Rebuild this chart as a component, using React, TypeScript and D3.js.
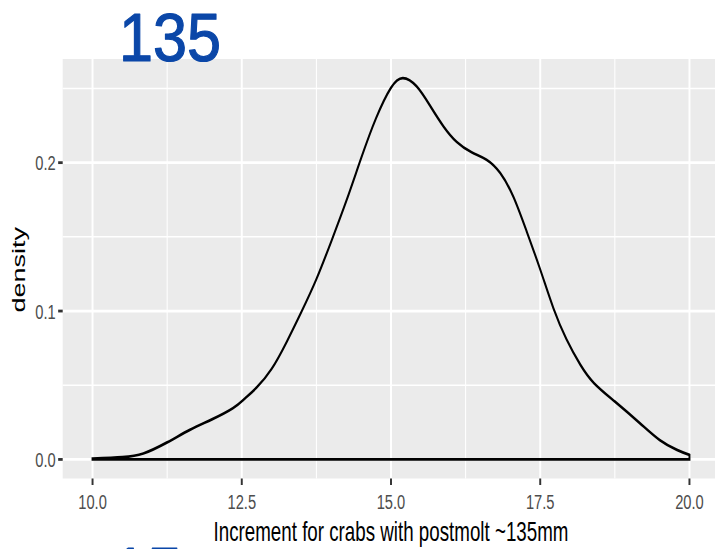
import React from 'react';
import * as d3 from 'd3';

// Kernel density estimate of the moult increment
const incrementX = [
  10.0, 10.5, 10.85, 11.25, 11.63, 12.0, 12.35, 12.55, 12.75, 13.0, 13.25, 13.5,
  13.75, 14.0, 14.25, 14.5, 14.75, 15.0, 15.2, 15.43, 15.66, 15.88, 16.1, 16.35,
  16.6, 16.83, 17.05, 17.27, 17.5, 17.72, 17.94, 18.17, 18.4, 18.75, 19.17, 19.5,
  19.79, 20.0,
];
const densityY = [
  0.0005, 0.0015, 0.004, 0.0115, 0.0199, 0.027, 0.0345, 0.041, 0.0485, 0.061, 0.079, 0.0995,
  0.1215, 0.147, 0.174, 0.203, 0.23, 0.2505, 0.257, 0.2514, 0.238, 0.2244, 0.214, 0.207,
  0.202, 0.193, 0.177, 0.154, 0.128, 0.102, 0.081, 0.064, 0.0515, 0.039, 0.0244, 0.0131,
  0.0064, 0.003,
];

const xTickValues = [10, 12.5, 15, 17.5, 20];
const xTickLabels = ['10.0', '12.5', '15.0', '17.5', '20.0'];
const xMinorValues = [11.25, 13.75, 16.25, 18.75];
const yTickValues = [0, 0.1, 0.2];
const yTickLabels = ['0.0', '0.1', '0.2'];
const yMinorValues = [0.05, 0.15, 0.25];

const xTitle = 'Increment for crabs with postmolt ~135mm';
const yTitle = 'density';
const noteTop = '135';
const noteBottom = '15';

const W = 715;
const H = 549;
// The plot is laid out on a wider canvas and squeezed horizontally
const SX = 0.7;

const FONT = '"Liberation Sans", Arial, Helvetica, sans-serif';

export default function App() {
  const panelLeft = 62.7 / SX;
  const panelRight = 719.3 / SX;
  const panelTop = 59;
  const panelBottom = 478.5;

  const xMin = d3.min(incrementX) as number;
  const xMax = d3.max(incrementX) as number;
  const yMax = d3.max(densityY) as number;
  const xPad = (xMax - xMin) * 0.05;
  const yPad = yMax * 0.05;

  const x = d3.scaleLinear().domain([xMin - xPad, xMax + xPad]).range([panelLeft, panelRight]);
  const y = d3.scaleLinear().domain([-yPad, yMax + yPad]).range([panelBottom, panelTop]);

  const pts: [number, number][] = incrementX.map((v, i) => [v, densityY[i]]);
  const line = d3
    .line<[number, number]>()
    .x((d) => x(d[0]))
    .y((d) => y(d[1]))
    .curve(d3.curveNatural);
  const outline =
    `M${x(xMin)},${y(0)}L` +
    (line(pts) as string).slice(1) +
    `L${x(xMax)},${y(0)}Z`;

  const tickLen = 6.5;
  const cx = (panelLeft + panelRight) / 2;
  const cy = (panelTop + panelBottom) / 2;

  return (
    <svg
      width={W}
      height={H}
      style={{ position: 'absolute', left: 0, top: 0, display: 'block', background: '#ffffff' }}
    >
      <g transform={`scale(${SX},1)`}>
        <rect
          x={panelLeft}
          y={panelTop}
          width={panelRight - panelLeft}
          height={panelBottom - panelTop}
          fill="#EBEBEB"
        />
        {yMinorValues.map((v) => (
          <line key={'ym' + v} x1={panelLeft} x2={panelRight} y1={y(v)} y2={y(v)} stroke="#fff" strokeWidth={1.5} />
        ))}
        {xMinorValues.map((v) => (
          <line key={'xm' + v} x1={x(v)} x2={x(v)} y1={panelTop} y2={panelBottom} stroke="#fff" strokeWidth={1.5} />
        ))}
        {yTickValues.map((v) => (
          <line key={'yg' + v} x1={panelLeft} x2={panelRight} y1={y(v)} y2={y(v)} stroke="#fff" strokeWidth={2.8} />
        ))}
        {xTickValues.map((v) => (
          <line key={'xg' + v} x1={x(v)} x2={x(v)} y1={panelTop} y2={panelBottom} stroke="#fff" strokeWidth={2.8} />
        ))}

        <path d={outline} fill="none" stroke="#000" strokeWidth={2.8} strokeLinejoin="miter" />

        {/* x axis */}
        {xTickValues.map((v, i) => (
          <g key={'xt' + v}>
            <line x1={x(v)} x2={x(v)} y1={panelBottom} y2={panelBottom + tickLen} stroke="#333" strokeWidth={2.8} />
            <text
              x={x(v)}
              y={509}
              textAnchor="middle"
              fontFamily={FONT}
              fontSize={21}
              fill="#4D4D4D"
            >
              {xTickLabels[i]}
            </text>
          </g>
        ))}
        {/* y axis */}
        {yTickValues.map((v, i) => (
          <g key={'yt' + v}>
            <line x1={panelLeft - tickLen} x2={panelLeft} y1={y(v)} y2={y(v)} stroke="#333" strokeWidth={2.8} />
            <text
              x={panelLeft - tickLen - 3.5}
              y={y(v) + 7.5}
              textAnchor="end"
              fontFamily={FONT}
              fontSize={21}
              fill="#4D4D4D"
            >
              {yTickLabels[i]}
            </text>
          </g>
        ))}

        <text x={cx} y={541.5} textAnchor="middle" fontFamily={FONT} fontSize={26.8} fill="#000">
          {xTitle}
        </text>
        <text
          transform={`translate(${36.4},${cy + 1}) rotate(-90)`}
          textAnchor="middle"
          fontFamily={FONT}
          fontSize={27}
          fill="#000"
        >
          {yTitle}
        </text>
      </g>

      {/* handwritten marks */}
      <text
        transform="translate(119,61) scale(0.9,1)"
        fontFamily={FONT}
        fontSize={68}
        fill="#0B47A8"
        stroke="#0B47A8"
        strokeWidth={1.2}
        strokeLinejoin="round"
      >
        {noteTop}
      </text>
      <text
        transform="translate(112,597) scale(0.9,1)"
        fontFamily={FONT}
        fontSize={70}
        fill="#0B47A8"
        stroke="#0B47A8"
        strokeWidth={1}
        strokeLinejoin="round"
      >
        {noteBottom}
      </text>
    </svg>
  );
}
